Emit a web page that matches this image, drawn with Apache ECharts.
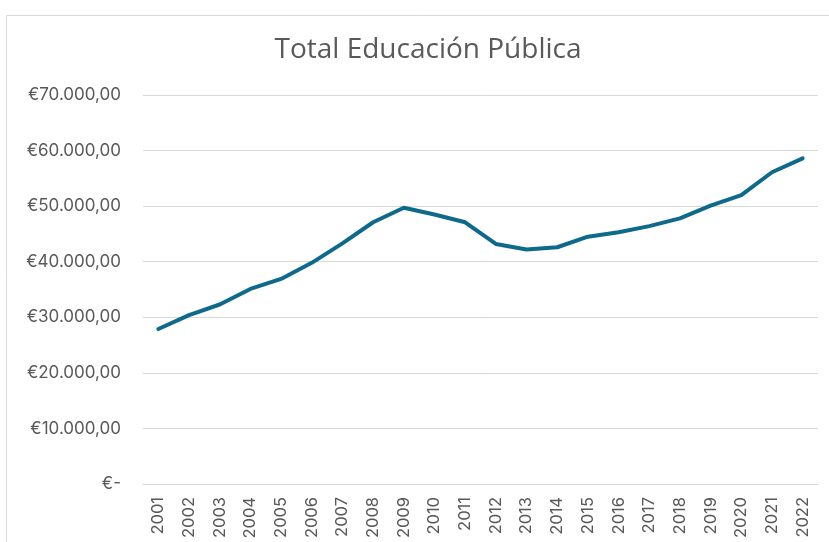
<!DOCTYPE html>
<html>
<head>
<meta charset="utf-8">
<script src="https://cdn.jsdelivr.net/npm/echarts@6/dist/echarts.min.js"></script>
<style>
html,body{margin:0;padding:0;background:#fff;}
#chart{width:829px;height:542px;}
</style>
</head>
<body>
<div id="chart"></div>
<script>
const years = ['2001','2002','2003','2004','2005','2006','2007','2008','2009','2010','2011','2012','2013','2014','2015','2016','2017','2018','2019','2020','2021','2022'];
const totalEducacion = [27900,30400,32300,35100,36900,39800,43300,47100,49700,48500,47100,43200,42200,42600,44500,45300,46400,47800,50100,52000,56100,58600];
const yTicks = [0,10000,20000,30000,40000,50000,60000,70000];

function fmt(v){
  if (v === 0) return '€-';
  const s = Math.round(v).toString().replace(/\B(?=(\d{3})+(?!\d))/g, '.');
  return '€' + s + ',00';
}

const chart = echarts.init(document.getElementById('chart'));
chart.setOption({
  backgroundColor: '#fff',
  animation: false,
  graphic: [{
    type: 'rect',
    shape: {x: 6.5, y: 15.5, width: 900, height: 600},
    style: {fill: 'none', stroke: '#d9d9d9', lineWidth: 1},
    silent: true
  }],
  title: {
    text: 'Total Educación Pública',
    left: 423,
    textAlign: 'center',
    top: 31,
    textStyle: {fontFamily: 'Open Sans', fontSize: 28, fontWeight: 'normal', color: '#595959'}
  },
  grid: {left: 143, right: 11, top: 95, bottom: 58},
  xAxis: {
    type: 'category',
    data: years,
    boundaryGap: true,
    axisLine: {lineStyle: {color: '#d9d9d9', width: 1}},
    axisTick: {show: false},
    axisLabel: {rotate: 90, color: '#595959', fontSize: 16.5, fontFamily: 'Inter', margin: 13, interval: 0}
  },
  yAxis: {
    type: 'value',
    min: 0,
    max: 70000,
    interval: 10000,
    axisLine: {show: false},
    axisTick: {show: false},
    splitLine: {lineStyle: {color: '#d9d9d9', width: 1}},
    axisLabel: {
      color: '#595959', fontSize: 17, fontFamily: 'Inter', margin: 22,
      formatter: function(v){ return yTicks.indexOf(v) >= 0 ? fmt(v) : ''; }
    }
  },
  series: [{
    type: 'line',
    data: totalEducacion,
    symbol: 'none',
    lineStyle: {color: '#0e6a8a', width: 4, cap: 'round', join: 'round'},
    itemStyle: {color: '#0e6a8a'}
  }]
});
</script>
</body>
</html>
